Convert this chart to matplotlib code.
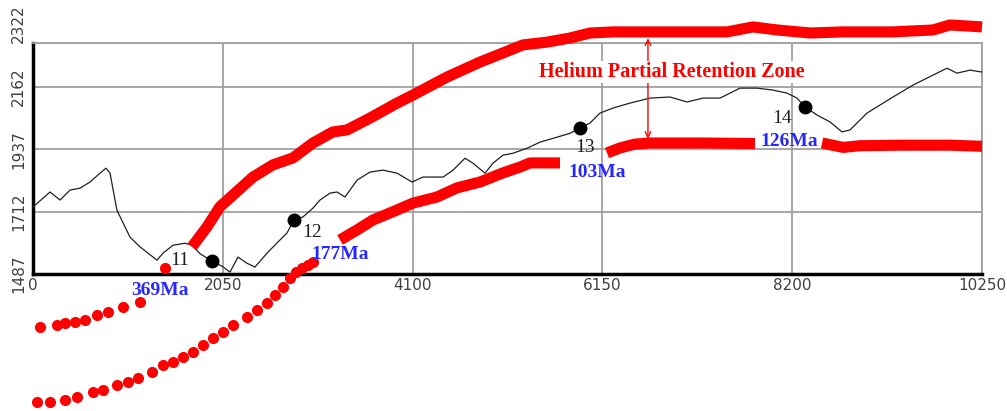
import numpy as np
import matplotlib
matplotlib.use('Agg')
import matplotlib.pyplot as plt

# elevation profile along the transect (distance in m, elevation in m)
profile_x = [0, 184, 292, 400, 508, 616, 724, 788, 832, 907, 1048, 1156, 1339, 1404, 1512,
             1642, 1717, 1804, 1933, 2052, 2128, 2214, 2311, 2397, 2527, 2635, 2743, 2819,
             2916, 3024, 3100, 3208, 3283, 3370, 3500, 3640, 3780, 3932, 4094, 4213, 4429,
             4537, 4666, 4752, 4882, 4968, 5076, 5184, 5336, 5476, 5660, 5800, 5908, 6016,
             6124, 6264, 6448, 6664, 6880, 7063, 7236, 7420, 7636, 7820, 7992, 8144, 8252,
             8338, 8468, 8608, 8738, 8824, 9008, 9289, 9505, 9721, 9872, 9980, 10120, 10250]
profile_y = [1729, 1783, 1754, 1790, 1797, 1819, 1851, 1869, 1851, 1717, 1620, 1585, 1537,
             1562, 1591, 1598, 1591, 1560, 1534, 1513, 1494, 1548, 1526, 1512, 1562, 1599,
             1635, 1682, 1693, 1725, 1754, 1779, 1783, 1765, 1826, 1855, 1862, 1851, 1819,
             1837, 1837, 1862, 1905, 1887, 1851, 1887, 1916, 1923, 1941, 1963, 1981, 1995,
             2014, 2032, 2068, 2086, 2104, 2122, 2126, 2108, 2122, 2122, 2158, 2158, 2151,
             2140, 2122, 2090, 2061, 2036, 2000, 2007, 2068, 2126, 2169, 2205, 2230, 2212,
             2223, 2216]

# sample sites on the profile
site_names = ['11', '12', '13', '14']
site_x = [1933, 2819, 5908, 8338]
site_y = [1534, 1682, 2014, 2090]

# top of the helium partial retention zone
top_dots_x = [76, 259, 346, 454, 562, 691, 810, 972, 1156, 1426]
top_dots_y = [1296, 1303, 1310, 1314, 1321, 1339, 1350, 1368, 1386, 1509]
top_x = [1717, 1879, 2020, 2160, 2376, 2592, 2808, 3024, 3240, 3391, 3640, 3932, 4104,
         4472, 4828, 5076, 5292, 5552, 5800, 6016, 6264, 6880, 7496, 7777, 8036, 8392,
         8749, 9289, 9721, 9904, 10250]
top_y = [1585, 1657, 1730, 1772, 1837, 1881, 1906, 1960, 2000, 2007, 2050, 2104, 2133,
         2198, 2252, 2285, 2314, 2324, 2339, 2357, 2361, 2361, 2361, 2379, 2368, 2357,
         2361, 2361, 2368, 2386, 2379]

# base of the zone, broken where the ages are written
base_dots_x = [43, 184, 346, 475, 648, 756, 907, 1026, 1134, 1285, 1404, 1512, 1620, 1728,
               1836, 1944, 2052, 2160, 2311, 2419, 2527, 2614, 2700, 2776, 2840, 2905,
               2970, 3024]
base_dots_y = [1025, 1025, 1032, 1043, 1061, 1068, 1086, 1097, 1112, 1133, 1158, 1169,
               1187, 1205, 1230, 1256, 1278, 1303, 1332, 1357, 1382, 1411, 1440, 1473,
               1494, 1509, 1519, 1530]
base1_x = [3316, 3500, 3672, 3932, 4104, 4364, 4580, 4828, 5076, 5260, 5368, 5692]
base1_y = [1610, 1646, 1682, 1718, 1743, 1765, 1798, 1819, 1852, 1873, 1888, 1888]
base2_x = [6200, 6340, 6502, 6664, 7204, 7798]
base2_y = [1924, 1942, 1956, 1960, 1960, 1958]
base3_x = [8522, 8749, 8932, 9364, 9904, 10250]
base3_y = [1960, 1944, 1950, 1952, 1952, 1948]

# ages along the base
age_labels = ['369Ma', '177Ma', '103Ma', '126Ma']
age_x = [1372, 3316, 6092, 8165]
age_y = [1429, 1556, 1855, 1964]

x_ticks = [0, 2050, 4100, 6150, 8200, 10250]
y_ticks = [1487, 1712, 1937, 2162, 2322]

RED = '#ff0000'
BLUE = '#2626ff'
SERIF = 'Liberation Serif'


def plotProfile():
    fig = plt.figure(figsize=(10.07, 4.11), dpi=100)
    ax = fig.add_axes([33 / 1007, 137 / 411, 949 / 1007, 231.3 / 411])

    ax.set_xlim(0, 10250)
    ax.set_ylim(1487, 2322)
    ax.set_xticks(x_ticks)
    ax.set_yticks(y_ticks)
    ax.set_yticklabels([str(v) for v in y_ticks], rotation=90, va='center')
    ax.tick_params(length=0, labelsize=11, labelcolor='#404040')
    ax.tick_params(axis='x', pad=3)
    ax.tick_params(axis='y', pad=5)
    ax.get_yticklabels()[-1].set_va('bottom')

    ax.grid(True, color='#a0a0a0', lw=1.3)
    ax.set_axisbelow(True)
    for side in ['top', 'right']:
        ax.spines[side].set_color('#a0a0a0')
        ax.spines[side].set_linewidth(1.3)
    for side in ['left', 'bottom']:
        ax.spines[side].set_color('black')
        ax.spines[side].set_linewidth(2.5)

    # profile and sample sites
    ax.plot(profile_x, profile_y, color='#202020', lw=0.9, zorder=3)
    ax.plot(site_x, site_y, 'o', color='black', ms=9, zorder=6)
    offsets = [(-350, 0), (200, -45), (50, -70), (-250, -40)]
    for name, x, y, (dx, dy) in zip(site_names, site_x, site_y, offsets):
        ax.text(x + dx, y + dy, name, family=SERIF, fontsize=14, color='#202020',
                ha='center', va='center', zorder=6)

    # retention zone limits
    line_kw = dict(color=RED, lw=8, solid_capstyle='butt', solid_joinstyle='round',
                   clip_on=False, zorder=4)
    dot_kw = dict(color=RED, ls='none', marker='o', ms=7, clip_on=False, zorder=4)
    ax.plot(top_x, top_y, **line_kw)
    ax.plot(top_dots_x, top_dots_y, **dot_kw)
    ax.plot(base_dots_x, base_dots_y, **dot_kw)
    for bx, by in [(base1_x, base1_y), (base2_x, base2_y), (base3_x, base3_y)]:
        ax.plot(bx, by, **line_kw)

    for label, x, y in zip(age_labels, age_x, age_y):
        ax.text(x, y, label, family=SERIF, fontweight='bold', fontsize=14, color=BLUE,
                ha='center', va='center', clip_on=False, zorder=7)

    # zone thickness arrow and title
    ax.annotate('', xy=(6642, 2338), xytext=(6642, 1975),
                arrowprops=dict(arrowstyle='<->', color=RED, lw=1, shrinkA=0, shrinkB=0),
                annotation_clip=False, zorder=5)
    ax.text(6902, 2216, 'Helium Partial Retention Zone', family=SERIF, fontweight='bold',
            fontsize=14.5, color=RED, ha='center', va='center', zorder=6,
            bbox=dict(facecolor='white', edgecolor='none', pad=1))

    fig.savefig('out.png', dpi=100)


plotProfile()
